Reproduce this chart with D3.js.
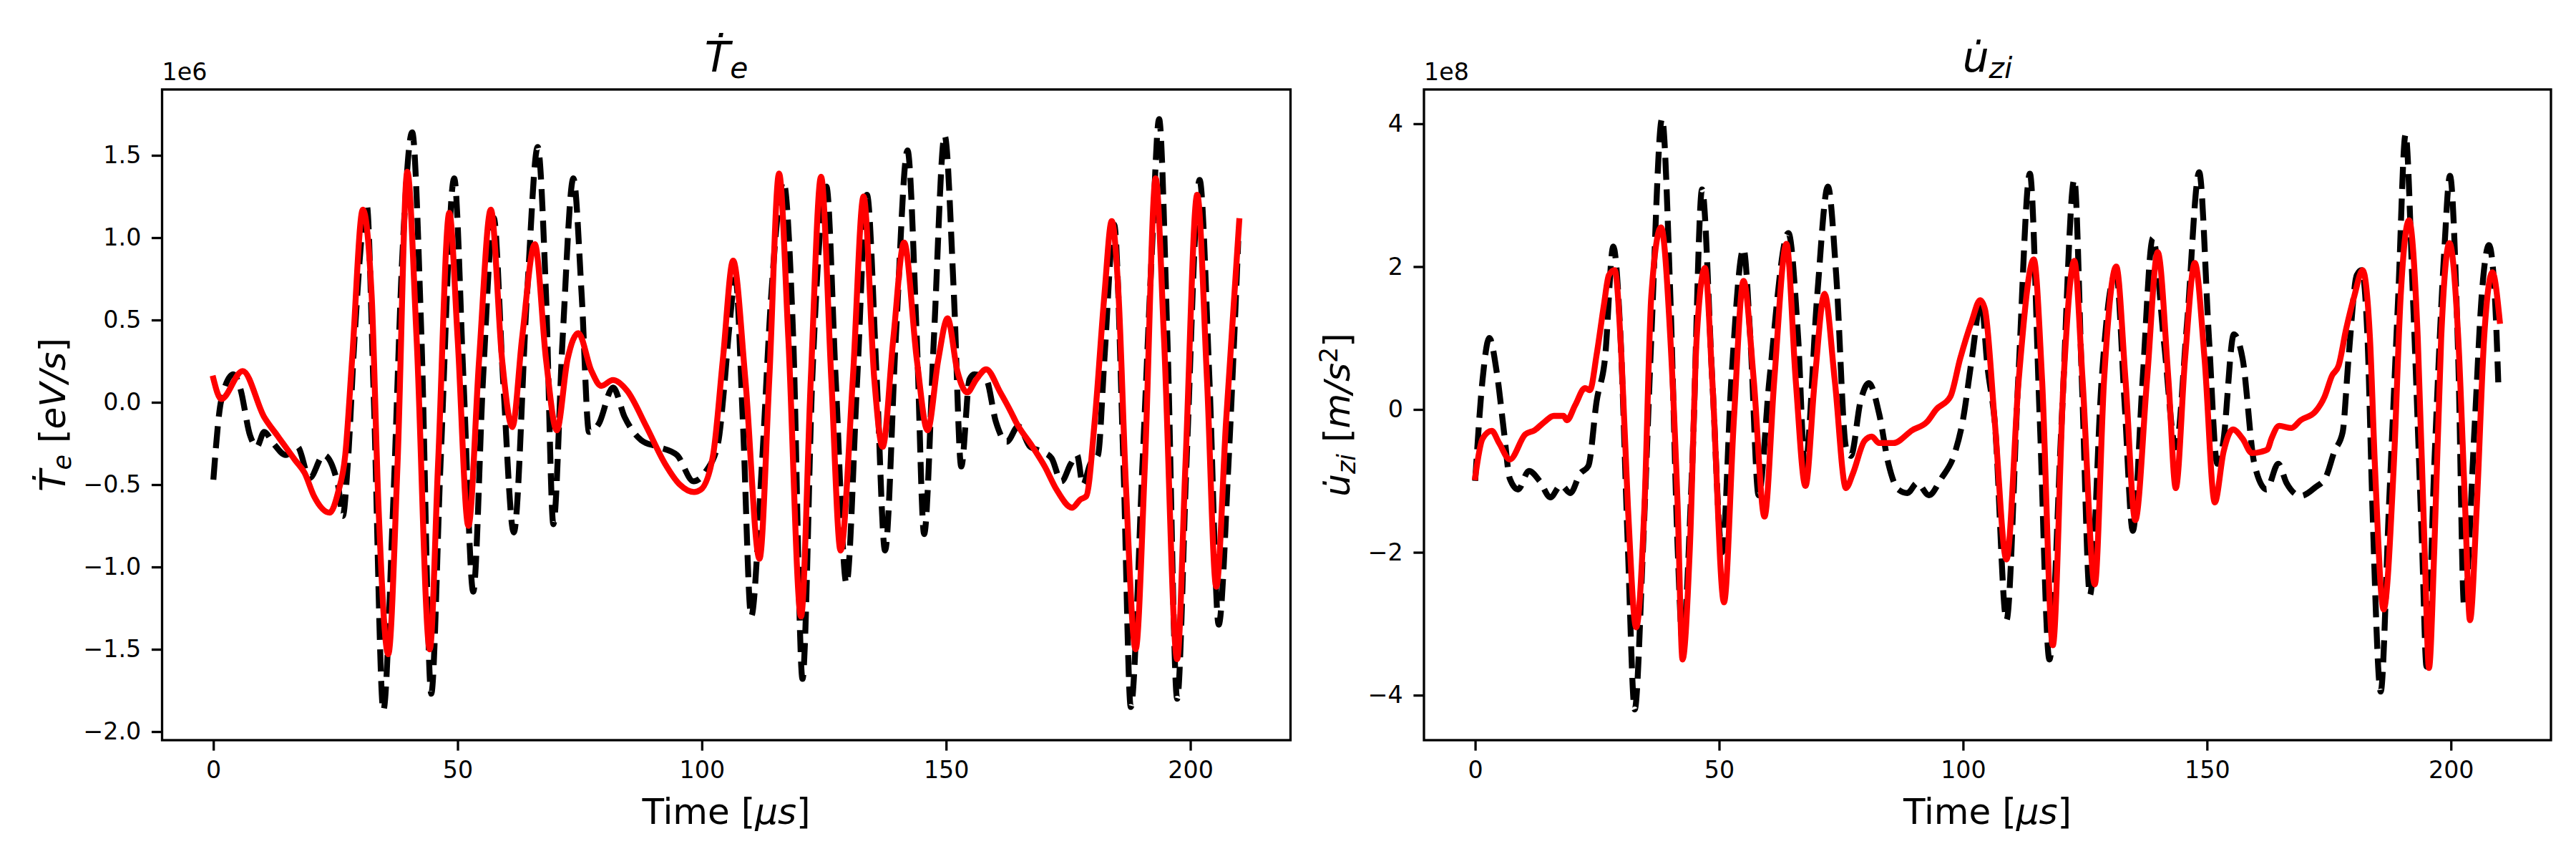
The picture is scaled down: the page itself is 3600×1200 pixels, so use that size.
<!DOCTYPE html>
<html><head><meta charset="utf-8">
<script src="https://cdn.jsdelivr.net/npm/d3@7"></script>
<style>body{margin:0;background:#fff} svg{display:block} text{font-family:"DejaVu Sans";}</style>
</head><body><svg id="c" width="3600" height="1200"></svg>
<script>
// ---------------- data ----------------
const timeTicks = [0, 50, 100, 150, 200];
const teTicks = [-2, -1.5, -1, -0.5, 0, 0.5, 1, 1.5];
const uTicks = [-4, -2, 0, 2, 4];
const timeLimits = [-10.5, 220.5];
const teLimits = [-2.052, 1.9];
const uLimits = [-4.63, 4.48];

// Left panel: dT_e/dt (units 1e6 eV/s) — black dashed reference
const teRefTime = [0,1.6,4.1,5.5,7.5,8.9,10.4,12.3,14.8,17.2,19.7,22.6,25.5,26.5,27.5,28.9,31.4,32.8,34.8,36.8,38.7,40.7,42.6,44.6,46.5,
 49.3,51.2,53.2,55.2,57.4,59.3,61.5,64.2,66.4,68.1,69.6,71.5,73.7,75.4,76.9,78.9,81.8,84.2,87.6,91.0,94.9,98.3,100.8,103.3,104.6,105.6,
 106.9,108.4,110.1,112.3,114.2,116.7,118.7,120.6,122.6,125.5,127.4,129.6,131.8,133.8,135.8,137.5,139.7,142.1,144.0,145.5,147.5,149.7,
 151.6,153.1,154.8,155.8,158.2,160.2,162.4,164.8,167.2,169.7,171.6,173.6,175.5,176.8,178.0,179.5,181.1,182.4,184.4,186.3,187.8,190.2,
 192.1,193.6,195.3,197.3,199.2,201.9,203.9,205.8,207.8,209.8];
const teRefValue = [-0.47,0.01,0.17,0.085,-0.2,-0.27,-0.18,-0.25,-0.32,-0.27,-0.46,-0.32,-0.5,-0.69,-0.38,0.39,1.2,0.07,-1.87,-0.63,0.9,1.64,0.39,-1.77,-0.375,
 1.36,0.14,-1.15,0.14,1.12,0.14,-0.79,0.65,1.55,0.65,-0.74,0.39,1.36,0.65,-0.18,-0.13,0.09,-0.09,-0.23,-0.27,-0.32,-0.48,-0.42,-0.25,0.1,0.45,
 0.75,-0.12,-1.3,-0.375,0.65,1.34,0.39,-1.68,0.14,1.31,0.14,-1.1,0.14,1.26,0.14,-0.9,0.39,1.53,0.39,-0.8,0.39,1.62,
 0.65,-0.39,0.14,0.17,0.14,-0.12,-0.24,-0.145,-0.27,-0.3,-0.34,-0.48,-0.375,-0.32,-0.5,-0.375,-0.32,0.26,1.08,-0.375,-1.85,-0.375,
 0.9,1.72,0.39,-1.8,-0.375,1.35,0.14,-1.35,-0.375,0.98];

// Left panel — red solid model
const teModelTime = [0,1.6,6.0,10.4,13.3,16.7,18.7,20.6,23.8,25.5,27.0,28.4,30.6,32.4,33.8,35.8,37.7,39.7,41.6,44.3,46.0,
 48.3,50.0,52.2,54.4,56.8,59.1,61.2,63.2,65.8,68.1,70.3,72.5,74.7,77.4,79.4,81.8,84.7,88.6,92.5,95.5,98.4,99.8,102.3,104.3,
 106.4,108.9,111.8,113.8,115.8,117.7,120.3,122.3,124.4,126.5,128.4,130.9,133.1,135.3,137.0,139.2,141.4,144.0,146.2,148.4,150.3,
 152.3,154.3,156.2,158.2,161.1,163.3,164.3,167.7,170.2,172.6,175.8,177.5,178.7,180.4,182.4,183.9,185.3,186.8,188.8,190.7,
 192.9,194.6,197.3,199.0,201.4,203.4,205.3,207.3,210];
const teModelValue = [0.145,0.02,0.19,-0.09,-0.21,-0.35,-0.43,-0.57,-0.67,-0.55,-0.32,0.26,1.17,0.65,-0.63,-1.53,-0.375,1.4,0.39,-1.5,-0.375,
 1.15,0.39,-0.75,0.26,1.17,0.26,-0.15,0.39,0.96,0.26,-0.17,0.26,0.42,0.19,0.1,0.135,0.07,-0.145,-0.375,-0.5,-0.545,-0.53,-0.32,0.26,
 0.86,0.14,-0.95,0.14,1.39,0.39,-1.3,0.14,1.37,0.14,-0.9,0.14,1.25,0.14,-0.27,0.39,0.97,0.26,-0.17,0.26,0.51,
 0.19,0.06,0.14,0.2,0.06,-0.06,-0.12,-0.27,-0.39,-0.53,-0.64,-0.59,-0.57,-0.12,0.65,1.1,0.65,-0.5,-1.5,-0.375,
 1.36,0.39,-1.56,-0.375,1.26,0.14,-1.12,-0.12,1.1];

// Right panel: du_zi/dt (units 1e8 m/s^2) — black dashed reference
const uRefTime = [0,1.5,2.9,4.4,5.9,7.1,8.8,11.0,13.2,15.4,17.6,19.5,21.5,23.2,24.9,26.6,28.3,29.8,31.3,32.7,34.4,36.1,38.3,40.0,41.5,42.5,44.5,
 46.5,48.6,50.6,52.5,55.0,56.4,58.1,60.3,64.2,66.2,67.6,70.1,72.3,74.0,76.0,77.0,79.0,80.7,82.8,84.7,86.7,88.6,90.6,93.0,95.5,98.4,99.9,
 101.8,103.7,105.0,106.5,108.9,111.3,113.7,115.7,117.7,120.2,122.8,124.4,126.0,128.4,130.4,131.4,133.1,134.8,136.8,138.9,141.2,143.6,
 145.9,148.4,150.4,152.1,153.3,155.5,157.3,159.7,162.2,164.6,166.3,169.2,172.2,174.4,176.1,177.8,179.0,180.7,181.7,182.9,183.9,185.6,
 187.3,189.2,190.7,192.2,194.1,195.0,196.6,198.6,199.8,201.5,202.7,204.9,206.3,207.8,209.0,209.7];
const uRefValue = [-1.0,0.41,1.0,0.53,-0.31,-0.97,-1.12,-0.86,-1.0,-1.23,-1.06,-1.17,-0.9,-0.79,0.12,0.71,2.28,1.0,-1.94,-4.2,-1.94,1.0,4.07,1.59,-1.94,-3.25,-0.76,
 3.08,0.41,-2.0,0.41,2.25,1.0,-1.2,0.41,2.47,1.0,-0.8,1.59,3.12,1.88,-0.53,-0.65,0.12,0.37,-0.06,-0.76,-1.12,-1.17,-1.03,-1.2,-0.97,-0.59,-0.175,
 0.71,1.52,0.6,-0.175,-2.95,0.41,3.3,-0.1,-3.5,-0.175,3.22,0.3,-2.6,0.41,1.75,1.9,0.1,-1.7,0.41,2.4,0.93,-0.53,
 1.2,3.32,1.0,-0.76,-0.47,1.05,0.71,-0.76,-1.12,-0.76,-1.03,-1.21,-1.09,-0.94,-0.59,-0.32,0.71,1.88,1.95,1.0,-1.35,-3.95,
 -1.35,1.59,3.85,1.59,-1.94,-3.6,-0.76,2.18,3.27,0.71,-2.75,-0.175,1.59,2.3,1.59,0.38];

// Right panel — red solid model
const uModelTime = [0,1.5,3.4,4.9,7.1,10.25,12.2,14.2,16.1,18.1,18.8,20.5,22.5,23.5,24.9,26.4,27.4,28.6,30.0,31.3,33.0,34.7,36.1,38.1,40.0,41.5,42.5,44.0,45.4,
 47.1,48.6,51.0,53.0,55.0,57.1,59.3,61.3,63.8,65.7,67.7,69.6,71.6,73.7,76.0,77.4,79.8,81.3,82.8,85.7,89.6,92.6,94.5,97.4,99.4,101.8,103.5,104.5,
 106.5,108.9,111.4,114.5,116.2,118.4,120.6,122.8,124.5,127.0,128.9,131.4,133.3,135.3,137.7,139.9,142.1,143.6,145.5,147.5,149.5,151.6,
 153.4,155.3,157.3,159.2,161.2,162.4,163.2,164.8,167.3,169.2,172.2,174.1,175.6,177.0,178.5,180.2,181.9,183.4,184.4,186.2,188.3,189.7,
 191.4,193.2,194.6,195.5,196.6,198.0,199.7,201.5,202.9,203.9,205.3,206.8,208.5,210.0];
const uModelValue = [-0.95,-0.41,-0.3,-0.47,-0.7,-0.35,-0.29,-0.175,-0.09,-0.09,-0.15,0.06,0.3,0.27,0.77,1.47,1.88,1.95,0.71,-1.35,-3.05,-1.35,1.59,2.55,1.0,-1.35,-3.5,-1.94,1.0,
 1.98,0.41,-2.7,-0.175,1.8,0.41,-1.5,0.41,2.32,0.41,-1.07,0.41,1.62,0.41,-1.1,-0.9,-0.44,-0.38,-0.47,-0.47,-0.29,-0.175,0.0,0.18,0.71,1.24,1.53,1.4,
 -0.175,-2.1,0.41,2.1,0.41,-3.3,0.41,2.08,0.41,-2.45,0.41,2.0,0.41,-1.55,0.41,2.2,0.41,-1.1,0.71,2.05,0.71,-1.3,
 -0.59,-0.28,-0.41,-0.61,-0.59,-0.56,-0.41,-0.23,-0.26,-0.15,-0.03,0.18,0.47,0.62,1.12,1.59,1.95,1.0,-0.76,-2.8,-0.76,1.59,
 2.65,1.0,-1.94,-3.62,-1.94,1.0,2.33,1.0,-1.35,-2.95,-1.35,1.0,1.92,1.24];

// ---------------- drawing ----------------
const svg = d3.select("#c");
svg.append("rect").attr("width", 3600).attr("height", 1200).attr("fill", "#fff");

const TOP = 125, BOTTOM = 1034;
const LW = 8.3, TICK_FS = 33.3, LABEL_FS = 50, TITLE_FS = 58.3;

// rich text helper: parts = [{t, it, sub, sup}]
function rich(sel, parts, fs) {
  let cur = 0;
  parts.forEach(p => {
    const target = p.sub ? 0.16 * fs : (p.sup ? -0.34 * fs : 0);
    const ts = sel.append("tspan").text(p.t)
      .attr("font-size", (p.sub || p.sup) ? fs * 0.7 : fs)
      .attr("font-style", p.it ? "italic" : "normal")
      .attr("dy", target - cur);
    cur = target;
  });
}

function panel(cfg, idx) {
  const x = d3.scaleLinear().domain(timeLimits).range([cfg.left, cfg.right]);
  const y = d3.scaleLinear().domain(cfg.yLimits).range([BOTTOM, TOP]);
  const g = svg.append("g");
  const cid = "clip" + idx;
  svg.append("clipPath").attr("id", cid).append("rect")
    .attr("x", cfg.left).attr("y", TOP).attr("width", cfg.right - cfg.left).attr("height", BOTTOM - TOP);

  const line = d3.line().x(d => x(d[0])).y(d => y(d[1])).curve(d3.curveMonotoneX);
  const plot = g.append("g").attr("clip-path", `url(#${cid})`);
  plot.append("path").datum(d3.zip(cfg.refT, cfg.refV)).attr("d", line)
    .attr("fill", "none").attr("stroke", "#000").attr("stroke-width", LW)
    .attr("stroke-dasharray", "30.8,13.3").attr("stroke-linecap", "butt").attr("stroke-linejoin", "round");
  plot.append("path").datum(d3.zip(cfg.modT, cfg.modV)).attr("d", line)
    .attr("fill", "none").attr("stroke", "#ff0000").attr("stroke-width", LW)
    .attr("stroke-linecap", "square").attr("stroke-linejoin", "round");

  // frame
  g.append("rect").attr("x", cfg.left).attr("y", TOP).attr("width", cfg.right - cfg.left).attr("height", BOTTOM - TOP)
    .attr("fill", "none").attr("stroke", "#000").attr("stroke-width", 3.3);

  const styleAxis = a => {
    a.select(".domain").remove();
    a.attr("font-family", "DejaVu Sans").attr("font-size", TICK_FS);
    a.selectAll(".tick line").attr("stroke", "#000").attr("stroke-width", 3.3);
    a.selectAll(".tick text").attr("fill", "#000");
  };
  const xa = g.append("g").attr("transform", `translate(0,${BOTTOM})`)
    .call(d3.axisBottom(x).tickValues(timeTicks).tickFormat(d3.format("d")).tickSize(14.6).tickPadding(14.6).tickSizeOuter(0));
  styleAxis(xa);
  const ya = g.append("g").attr("transform", `translate(${cfg.left},0)`)
    .call(d3.axisLeft(y).tickValues(cfg.yTicks).tickFormat(d3.format(cfg.fmt)).tickSize(14.6).tickPadding(14.6).tickSizeOuter(0));
  styleAxis(ya);

  // offset text
  g.append("text").attr("x", cfg.left).attr("y", 112).attr("font-size", TICK_FS).text(cfg.offset);

  const cx = (cfg.left + cfg.right) / 2;
  // title
  rich(g.append("text").attr("x", cx).attr("y", 100).attr("text-anchor", "middle"), cfg.title, TITLE_FS);
  // x label
  rich(g.append("text").attr("x", cx).attr("y", 1151).attr("text-anchor", "middle"),
    [{t: "Time ["}, {t: "μs", it: true}, {t: "]"}], LABEL_FS);
  // y label
  rich(g.append("text").attr("transform", `translate(${cfg.ylabelX},${(TOP + BOTTOM) / 2}) rotate(-90)`)
    .attr("text-anchor", "middle"), cfg.ylabel, LABEL_FS);
}

panel({
  left: 226.5, right: 1803.5, yLimits: teLimits, yTicks: teTicks, fmt: ".1f",
  refT: teRefTime, refV: teRefValue, modT: teModelTime, modV: teModelValue,
  offset: "1e6", ylabelX: 91,
  title: [{t: "Ṫ", it: true}, {t: "e", it: true, sub: true}],
  ylabel: [{t: "Ṫ", it: true}, {t: "e", it: true, sub: true}, {t: " ["}, {t: "eV/s", it: true}, {t: "]"}]
}, 0);

panel({
  left: 1990, right: 3565, yLimits: uLimits, yTicks: uTicks, fmt: "d",
  refT: uRefTime, refV: uRefValue, modT: uModelTime, modV: uModelValue,
  offset: "1e8", ylabelX: 1886,
  title: [{t: "u\u0307", it: true}, {t: "zi", it: true, sub: true}],
  ylabel: [{t: "u\u0307", it: true}, {t: "zi", it: true, sub: true}, {t: " ["}, {t: "m/s", it: true}, {t: "2", it: false, sup: true}, {t: "]"}]
}, 1);
</script></body></html>
